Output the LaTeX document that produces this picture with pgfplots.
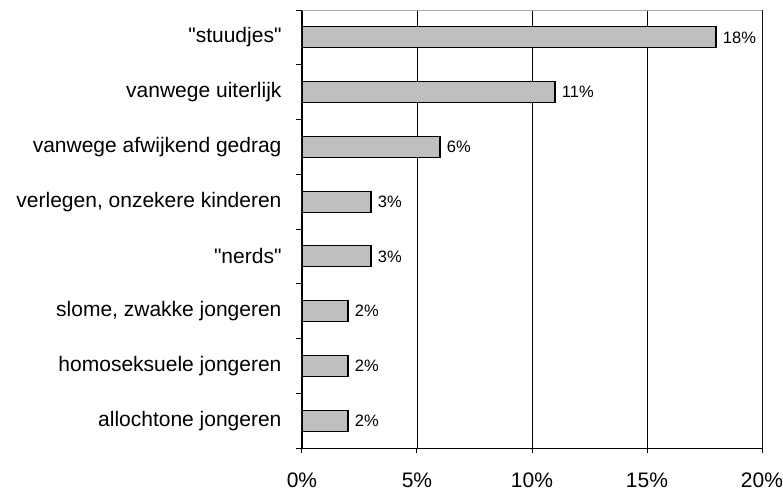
\documentclass[border=0pt]{standalone}
\usepackage{pgfplots}
\pgfplotsset{compat=1.18}
\usepackage{fontspec}
\setmainfont{Liberation Sans}[Ligatures=TeXOff]
\begin{document}
\begin{tikzpicture}
\path[use as bounding box] (-302bp,-44bp) rectangle (481bp,448bp);
\begin{axis}[
    at={(0,0)}, anchor=south west,
    scale only axis, width=460bp, height=438bp,
    xbar, bar width=21bp,
    xmin=0, xmax=20, ymin=-0.5, ymax=7.5,
    axis x line*=bottom, axis y line*=left,
    x axis line style={black, line width=1pt, -},
    y axis line style={black, line width=1.5pt, -},
    xtick={0,5,10,15,20},
    xticklabels={0\%,5\%,10\%,15\%,20\%},
    ytick={0,...,7},
    yticklabels={allochtone jongeren, homoseksuele jongeren, {slome, zwakke jongeren}, "nerds", {verlegen, onzekere kinderen}, vanwege afwijkend gedrag, vanwege uiterlijk, "stuudjes"},
    major y tick style={draw=none},
    minor ytick={-0.5,0.5,...,7.5},
    minor tick length=6bp, major tick length=5bp,
    tick align=outside,
    tick style={black, line width=1pt},
    xmajorgrids, grid style={black, line width=0.8pt},
    tick label style={font=\fontsize{21bp}{25bp}\selectfont},
    xticklabel style={yshift=-16bp},
    yticklabel style={xshift=-12bp},
    nodes near coords={\pgfmathprintnumber[assume math mode=true]{\pgfplotspointmeta}\%},
    nodes near coords style={font=\fontsize{16.5bp}{19bp}\selectfont, black, xshift=3bp},
    point meta=x,
]
\addplot[fill=gray!50, draw=black, line width=1.2pt] coordinates {
    (2,0) (2,1) (2,2) (3,3) (3,4) (6,5) (11,6) (18,7)
};
\draw[gray!70, line width=1pt] (rel axis cs:0,1) -- (rel axis cs:1,1) -- (rel axis cs:1,0);
\end{axis}
\end{tikzpicture}
\end{document}
